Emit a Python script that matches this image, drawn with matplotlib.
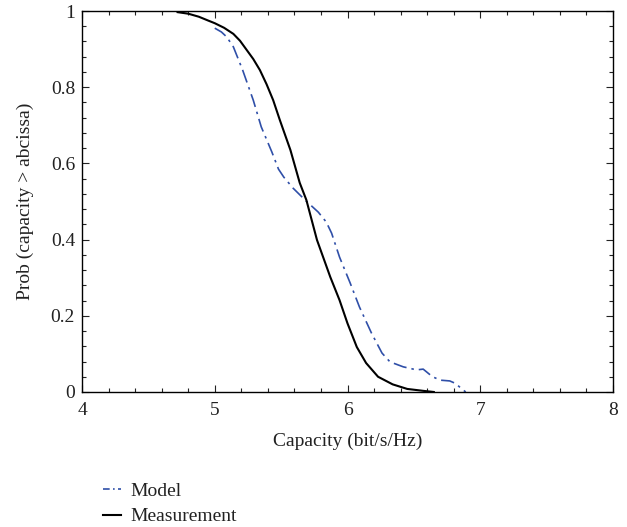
import matplotlib
matplotlib.use("Agg")
import matplotlib.pyplot as plt
from matplotlib.ticker import MultipleLocator

plt.rcParams['font.family'] = ['Liberation Serif', 'DejaVu Serif']

model_x = [5.00, 5.05, 5.09, 5.14, 5.21, 5.29, 5.35, 5.43, 5.48, 5.52, 5.59, 5.68, 5.78, 5.84,
           5.88, 5.94, 6.02, 6.09, 6.18, 6.26, 6.32, 6.42, 6.52, 6.57, 6.64, 6.70, 6.77,
           6.81, 6.89]
model_y = [0.955, 0.945, 0.932, 0.906, 0.845, 0.766, 0.696, 0.630, 0.585, 0.564, 0.535, 0.504,
           0.472, 0.446, 0.417, 0.354, 0.286, 0.223, 0.155, 0.102, 0.079, 0.066, 0.058,
           0.060, 0.040, 0.031, 0.029, 0.023, 0.0]

meas_x = [4.72, 4.80, 4.88, 4.95, 5.00, 5.07, 5.14, 5.19, 5.24, 5.29, 5.34, 5.39, 5.44, 5.49,
          5.57, 5.64, 5.69, 5.77, 5.87, 5.94, 6.00, 6.07, 6.14, 6.23, 6.34, 6.45, 6.57, 6.65]
meas_y = [0.997, 0.993, 0.985, 0.975, 0.968, 0.956, 0.940, 0.922, 0.898, 0.874, 0.845, 0.808,
          0.766, 0.714, 0.635, 0.549, 0.504, 0.399, 0.302, 0.241, 0.180, 0.118, 0.076, 0.040,
          0.020, 0.008, 0.003, 0.0]

fig = plt.figure(figsize=(6.27, 5.27), dpi=100)
ax = fig.add_axes([0.1308, 0.2562, 0.8469, 0.7229])

l1, = ax.plot(model_x, model_y, color='#2f4fa8', lw=1.2, dashes=[8, 3, 1.5, 3], label='Model')
l2, = ax.plot(meas_x, meas_y, color='black', lw=1.5, label='Measurement')

ax.set_xlim(4, 8)
ax.set_ylim(0, 1)
ax.xaxis.set_major_locator(MultipleLocator(1))
ax.xaxis.set_minor_locator(MultipleLocator(0.2))
ax.yaxis.set_minor_locator(MultipleLocator(0.04))
ax.set_yticks([0, 0.2, 0.4, 0.6, 0.8, 1.0])
ax.set_yticklabels(['0', '0.2', '0.4', '0.6', '0.8', '1'])
ax.tick_params(which='both', direction='in', top=True, right=True, labelsize=14,
               color='#222222', labelcolor='#222222', width=0.8)
ax.tick_params(which='major', length=5)
ax.tick_params(which='minor', length=3)
ax.tick_params(axis='x', which='major', pad=7)
ax.tick_params(axis='y', which='major', pad=5)
for s in ax.spines.values():
    s.set_linewidth(1.0)
ax.set_xlabel('Capacity (bit/s/Hz)', fontsize=14, labelpad=10, color='#222222')
ax.set_ylabel('Prob (capacity > abcissa)', fontsize=14, labelpad=12, color='#222222')

leg = fig.legend(handles=[l1, l2], loc='upper left', bbox_to_anchor=(0.152, 0.1), frameon=False,
                 fontsize=14, handlelength=0.9, handletextpad=0.5, labelspacing=0.42,
                 borderaxespad=0, labelcolor='#222222')
leg.get_lines()[0].set_dashes([4, 2, 1, 2])

fig.savefig('out.png', dpi=100)
